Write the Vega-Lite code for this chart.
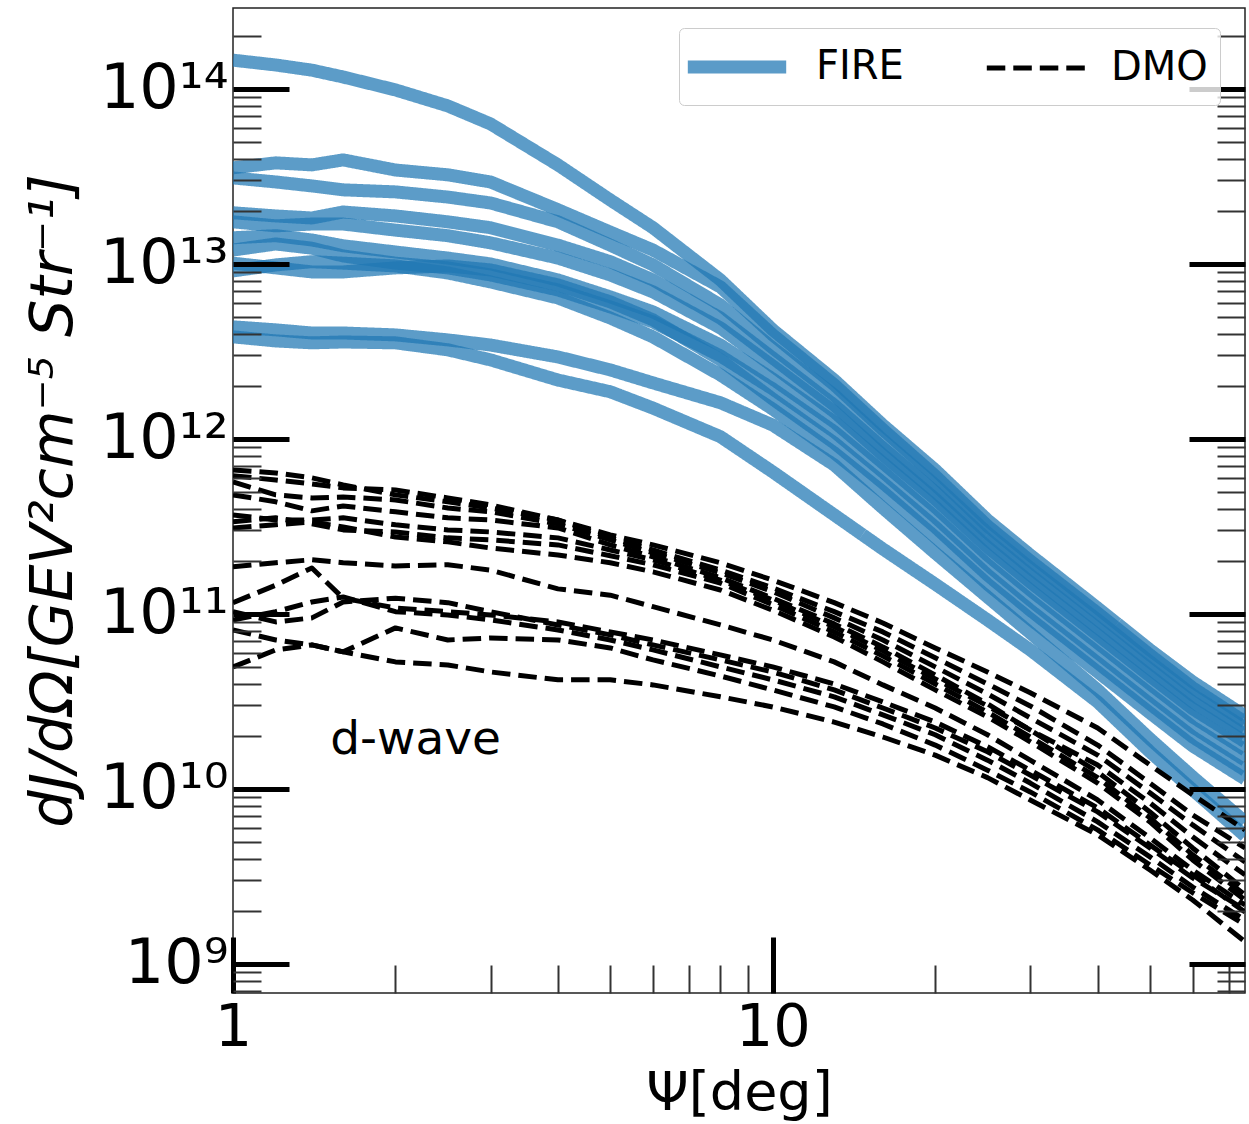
{
"$schema": "https://vega.github.io/schema/vega-lite/v6.json",
"width": 1012, "height": 985,
"autosize": {"type": "none"},
"padding": {"left": 233, "top": 8, "right": 4, "bottom": 131},
"background": "white",
"config": {"view": {"stroke": "#222222", "strokeWidth": 1.5}},
"datasets": {
"fire": [
{"sim":"FIRE","halo":"F1","psi":1,"J":1.46e14},{"sim":"FIRE","halo":"F1","psi":1.2,"J":1.37e14},{"sim":"FIRE","halo":"F1","psi":1.4,"J":1.28e14},{"sim":"FIRE","halo":"F1","psi":1.6,"J":1.17e14},{"sim":"FIRE","halo":"F1","psi":2,"J":9.87e13},{"sim":"FIRE","halo":"F1","psi":2.5,"J":8.00e13},{"sim":"FIRE","halo":"F1","psi":3,"J":6.31e13},{"sim":"FIRE","halo":"F1","psi":4,"J":3.68e13},{"sim":"FIRE","halo":"F1","psi":5,"J":2.32e13},{"sim":"FIRE","halo":"F1","psi":6,"J":1.61e13},{"sim":"FIRE","halo":"F1","psi":8,"J":8.10e12},{"sim":"FIRE","halo":"F1","psi":10,"J":4.20e12},{"sim":"FIRE","halo":"F1","psi":13,"J":2.17e12},{"sim":"FIRE","halo":"F1","psi":16,"J":1.20e12},{"sim":"FIRE","halo":"F1","psi":20,"J":6.65e11},{"sim":"FIRE","halo":"F1","psi":25,"J":3.44e11},{"sim":"FIRE","halo":"F1","psi":30,"J":2.17e11},{"sim":"FIRE","halo":"F1","psi":40,"J":1.08e11},{"sim":"FIRE","halo":"F1","psi":50,"J":6.23e10},{"sim":"FIRE","halo":"F1","psi":60,"J":4.09e10},{"sim":"FIRE","halo":"F1","psi":75,"J":2.61e10},
{"sim":"FIRE","halo":"F2","psi":1,"J":3.54e13},{"sim":"FIRE","halo":"F2","psi":1.2,"J":3.78e13},{"sim":"FIRE","halo":"F2","psi":1.4,"J":3.68e13},{"sim":"FIRE","halo":"F2","psi":1.6,"J":3.93e13},{"sim":"FIRE","halo":"F2","psi":2,"J":3.44e13},{"sim":"FIRE","halo":"F2","psi":2.5,"J":3.23e13},{"sim":"FIRE","halo":"F2","psi":3,"J":2.94e13},{"sim":"FIRE","halo":"F2","psi":4,"J":2.04e13},{"sim":"FIRE","halo":"F2","psi":5,"J":1.52e13},{"sim":"FIRE","halo":"F2","psi":6,"J":1.20e13},{"sim":"FIRE","halo":"F2","psi":8,"J":7.39e12},{"sim":"FIRE","halo":"F2","psi":10,"J":3.93e12},{"sim":"FIRE","halo":"F2","psi":13,"J":2.04e12},{"sim":"FIRE","halo":"F2","psi":16,"J":1.13e12},{"sim":"FIRE","halo":"F2","psi":20,"J":6.15e11},{"sim":"FIRE","halo":"F2","psi":25,"J":3.18e11},{"sim":"FIRE","halo":"F2","psi":30,"J":2.01e11},{"sim":"FIRE","halo":"F2","psi":40,"J":1.01e11},{"sim":"FIRE","halo":"F2","psi":50,"J":5.83e10},{"sim":"FIRE","halo":"F2","psi":60,"J":3.78e10},{"sim":"FIRE","halo":"F2","psi":75,"J":2.41e10},
{"sim":"FIRE","halo":"F3","psi":1,"J":3.10e13},{"sim":"FIRE","halo":"F3","psi":1.2,"J":2.94e13},{"sim":"FIRE","halo":"F3","psi":1.4,"J":2.79e13},{"sim":"FIRE","halo":"F3","psi":1.6,"J":2.65e13},{"sim":"FIRE","halo":"F3","psi":2,"J":2.58e13},{"sim":"FIRE","halo":"F3","psi":2.5,"J":2.41e13},{"sim":"FIRE","halo":"F3","psi":3,"J":2.23e13},{"sim":"FIRE","halo":"F3","psi":4,"J":1.74e13},{"sim":"FIRE","halo":"F3","psi":5,"J":1.28e13},{"sim":"FIRE","halo":"F3","psi":6,"J":9.87e12},{"sim":"FIRE","halo":"F3","psi":8,"J":5.83e12},{"sim":"FIRE","halo":"F3","psi":10,"J":3.31e12},{"sim":"FIRE","halo":"F3","psi":13,"J":1.78e12},{"sim":"FIRE","halo":"F3","psi":16,"J":9.87e11},{"sim":"FIRE","halo":"F3","psi":20,"J":5.46e11},{"sim":"FIRE","halo":"F3","psi":25,"J":2.90e11},{"sim":"FIRE","halo":"F3","psi":30,"J":1.83e11},{"sim":"FIRE","halo":"F3","psi":40,"J":9.24e10},{"sim":"FIRE","halo":"F3","psi":50,"J":5.32e10},{"sim":"FIRE","halo":"F3","psi":60,"J":3.44e10},{"sim":"FIRE","halo":"F3","psi":75,"J":2.23e10},
{"sim":"FIRE","halo":"F4","psi":1,"J":1.96e13},{"sim":"FIRE","halo":"F4","psi":1.2,"J":1.88e13},{"sim":"FIRE","halo":"F4","psi":1.4,"J":1.83e13},{"sim":"FIRE","halo":"F4","psi":1.6,"J":1.98e13},{"sim":"FIRE","halo":"F4","psi":2,"J":1.88e13},{"sim":"FIRE","halo":"F4","psi":2.5,"J":1.74e13},{"sim":"FIRE","halo":"F4","psi":3,"J":1.61e13},{"sim":"FIRE","halo":"F4","psi":4,"J":1.28e13},{"sim":"FIRE","halo":"F4","psi":5,"J":1.03e13},{"sim":"FIRE","halo":"F4","psi":6,"J":8.10e12},{"sim":"FIRE","halo":"F4","psi":8,"J":4.91e12},{"sim":"FIRE","halo":"F4","psi":10,"J":2.90e12},{"sim":"FIRE","halo":"F4","psi":13,"J":1.56e12},{"sim":"FIRE","halo":"F4","psi":16,"J":8.88e11},{"sim":"FIRE","halo":"F4","psi":20,"J":4.98e11},{"sim":"FIRE","halo":"F4","psi":25,"J":2.65e11},{"sim":"FIRE","halo":"F4","psi":30,"J":1.67e11},{"sim":"FIRE","halo":"F4","psi":40,"J":8.32e10},{"sim":"FIRE","halo":"F4","psi":50,"J":4.85e10},{"sim":"FIRE","halo":"F4","psi":60,"J":3.14e10},{"sim":"FIRE","halo":"F4","psi":75,"J":2.04e10},
{"sim":"FIRE","halo":"F5","psi":1,"J":1.74e13},{"sim":"FIRE","halo":"F5","psi":1.2,"J":1.65e13},{"sim":"FIRE","halo":"F5","psi":1.4,"J":1.69e13},{"sim":"FIRE","halo":"F5","psi":1.6,"J":1.69e13},{"sim":"FIRE","halo":"F5","psi":2,"J":1.56e13},{"sim":"FIRE","halo":"F5","psi":2.5,"J":1.45e13},{"sim":"FIRE","halo":"F5","psi":3,"J":1.32e13},{"sim":"FIRE","halo":"F5","psi":4,"J":1.08e13},{"sim":"FIRE","halo":"F5","psi":5,"J":8.65e12},{"sim":"FIRE","halo":"F5","psi":6,"J":6.92e12},{"sim":"FIRE","halo":"F5","psi":8,"J":4.31e12},{"sim":"FIRE","halo":"F5","psi":10,"J":2.61e12},{"sim":"FIRE","halo":"F5","psi":13,"J":1.43e12},{"sim":"FIRE","halo":"F5","psi":16,"J":8.10e11},{"sim":"FIRE","halo":"F5","psi":20,"J":4.54e11},{"sim":"FIRE","halo":"F5","psi":25,"J":2.41e11},{"sim":"FIRE","halo":"F5","psi":30,"J":1.52e11},{"sim":"FIRE","halo":"F5","psi":40,"J":7.59e10},{"sim":"FIRE","halo":"F5","psi":50,"J":4.42e10},{"sim":"FIRE","halo":"F5","psi":60,"J":2.87e10},{"sim":"FIRE","halo":"F5","psi":75,"J":1.86e10},
{"sim":"FIRE","halo":"F6","psi":1,"J":1.41e13},{"sim":"FIRE","halo":"F6","psi":1.2,"J":1.45e13},{"sim":"FIRE","halo":"F6","psi":1.4,"J":1.37e13},{"sim":"FIRE","halo":"F6","psi":1.6,"J":1.27e13},{"sim":"FIRE","halo":"F6","psi":2,"J":1.17e13},{"sim":"FIRE","halo":"F6","psi":2.5,"J":1.08e13},{"sim":"FIRE","halo":"F6","psi":3,"J":1.00e13},{"sim":"FIRE","halo":"F6","psi":4,"J":8.10e12},{"sim":"FIRE","halo":"F6","psi":5,"J":6.48e12},{"sim":"FIRE","halo":"F6","psi":6,"J":5.32e12},{"sim":"FIRE","halo":"F6","psi":8,"J":3.44e12},{"sim":"FIRE","halo":"F6","psi":10,"J":2.20e12},{"sim":"FIRE","halo":"F6","psi":13,"J":1.25e12},{"sim":"FIRE","halo":"F6","psi":16,"J":7.29e11},{"sim":"FIRE","halo":"F6","psi":20,"J":4.09e11},{"sim":"FIRE","halo":"F6","psi":25,"J":2.17e11},{"sim":"FIRE","halo":"F6","psi":30,"J":1.37e11},{"sim":"FIRE","halo":"F6","psi":40,"J":6.83e10},{"sim":"FIRE","halo":"F6","psi":50,"J":3.98e10},{"sim":"FIRE","halo":"F6","psi":60,"J":2.58e10},{"sim":"FIRE","halo":"F6","psi":75,"J":1.67e10},
{"sim":"FIRE","halo":"F7","psi":1,"J":1.20e13},{"sim":"FIRE","halo":"F7","psi":1.2,"J":1.30e13},{"sim":"FIRE","halo":"F7","psi":1.4,"J":1.23e13},{"sim":"FIRE","halo":"F7","psi":1.6,"J":1.11e13},{"sim":"FIRE","halo":"F7","psi":2,"J":1.01e13},{"sim":"FIRE","halo":"F7","psi":2.5,"J":9.49e12},{"sim":"FIRE","halo":"F7","psi":3,"J":8.65e12},{"sim":"FIRE","halo":"F7","psi":4,"J":7.10e12},{"sim":"FIRE","halo":"F7","psi":5,"J":5.68e12},{"sim":"FIRE","halo":"F7","psi":6,"J":4.66e12},{"sim":"FIRE","halo":"F7","psi":8,"J":2.98e12},{"sim":"FIRE","halo":"F7","psi":10,"J":1.93e12},{"sim":"FIRE","halo":"F7","psi":13,"J":1.10e12},{"sim":"FIRE","halo":"F7","psi":16,"J":6.48e11},{"sim":"FIRE","halo":"F7","psi":20,"J":3.58e11},{"sim":"FIRE","halo":"F7","psi":25,"J":1.91e11},{"sim":"FIRE","halo":"F7","psi":30,"J":1.20e11},{"sim":"FIRE","halo":"F7","psi":40,"J":5.99e10},{"sim":"FIRE","halo":"F7","psi":50,"J":3.49e10},{"sim":"FIRE","halo":"F7","psi":60,"J":2.26e10},{"sim":"FIRE","halo":"F7","psi":75,"J":1.46e10},
{"sim":"FIRE","halo":"F8","psi":1,"J":1.01e13},{"sim":"FIRE","halo":"F8","psi":1.2,"J":9.49e12},{"sim":"FIRE","halo":"F8","psi":1.4,"J":9.00e12},{"sim":"FIRE","halo":"F8","psi":1.6,"J":9.00e12},{"sim":"FIRE","halo":"F8","psi":2,"J":9.49e12},{"sim":"FIRE","halo":"F8","psi":2.5,"J":9.74e12},{"sim":"FIRE","halo":"F8","psi":3,"J":9.24e12},{"sim":"FIRE","halo":"F8","psi":4,"J":7.59e12},{"sim":"FIRE","halo":"F8","psi":5,"J":6.07e12},{"sim":"FIRE","halo":"F8","psi":6,"J":4.79e12},{"sim":"FIRE","halo":"F8","psi":8,"J":2.83e12},{"sim":"FIRE","halo":"F8","psi":10,"J":1.69e12},{"sim":"FIRE","halo":"F8","psi":13,"J":9.49e11},{"sim":"FIRE","halo":"F8","psi":16,"J":5.61e11},{"sim":"FIRE","halo":"F8","psi":20,"J":3.14e11},{"sim":"FIRE","halo":"F8","psi":25,"J":1.67e11},{"sim":"FIRE","halo":"F8","psi":30,"J":1.05e11},{"sim":"FIRE","halo":"F8","psi":40,"J":5.25e10},{"sim":"FIRE","halo":"F8","psi":50,"J":3.06e10},{"sim":"FIRE","halo":"F8","psi":60,"J":1.98e10},{"sim":"FIRE","halo":"F8","psi":75,"J":1.28e10},
{"sim":"FIRE","halo":"F9","psi":1,"J":9.12e12},{"sim":"FIRE","halo":"F9","psi":1.2,"J":9.87e12},{"sim":"FIRE","halo":"F9","psi":1.4,"J":1.03e13},{"sim":"FIRE","halo":"F9","psi":1.6,"J":1.01e13},{"sim":"FIRE","halo":"F9","psi":2,"J":9.74e12},{"sim":"FIRE","halo":"F9","psi":2.5,"J":8.88e12},{"sim":"FIRE","halo":"F9","psi":3,"J":7.89e12},{"sim":"FIRE","halo":"F9","psi":4,"J":6.39e12},{"sim":"FIRE","halo":"F9","psi":5,"J":4.91e12},{"sim":"FIRE","halo":"F9","psi":6,"J":3.83e12},{"sim":"FIRE","halo":"F9","psi":8,"J":2.32e12},{"sim":"FIRE","halo":"F9","psi":10,"J":1.48e12},{"sim":"FIRE","halo":"F9","psi":13,"J":8.32e11},{"sim":"FIRE","halo":"F9","psi":16,"J":4.98e11},{"sim":"FIRE","halo":"F9","psi":20,"J":2.75e11},{"sim":"FIRE","halo":"F9","psi":25,"J":1.48e11},{"sim":"FIRE","halo":"F9","psi":30,"J":9.36e10},{"sim":"FIRE","halo":"F9","psi":40,"J":4.66e10},{"sim":"FIRE","halo":"F9","psi":50,"J":2.72e10},{"sim":"FIRE","halo":"F9","psi":60,"J":1.76e10},{"sim":"FIRE","halo":"F9","psi":75,"J":1.14e10},
{"sim":"FIRE","halo":"F10","psi":1,"J":4.37e12},{"sim":"FIRE","halo":"F10","psi":1.2,"J":4.20e12},{"sim":"FIRE","halo":"F10","psi":1.4,"J":4.03e12},{"sim":"FIRE","halo":"F10","psi":1.6,"J":4.03e12},{"sim":"FIRE","halo":"F10","psi":2,"J":3.93e12},{"sim":"FIRE","halo":"F10","psi":2.5,"J":3.68e12},{"sim":"FIRE","halo":"F10","psi":3,"J":3.44e12},{"sim":"FIRE","halo":"F10","psi":4,"J":2.94e12},{"sim":"FIRE","halo":"F10","psi":5,"J":2.48e12},{"sim":"FIRE","halo":"F10","psi":6,"J":2.09e12},{"sim":"FIRE","halo":"F10","psi":8,"J":1.61e12},{"sim":"FIRE","halo":"F10","psi":10,"J":1.20e12},{"sim":"FIRE","halo":"F10","psi":13,"J":7.10e11},{"sim":"FIRE","halo":"F10","psi":16,"J":4.03e11},{"sim":"FIRE","halo":"F10","psi":20,"J":2.23e11},{"sim":"FIRE","halo":"F10","psi":25,"J":1.25e11},{"sim":"FIRE","halo":"F10","psi":30,"J":7.79e10},{"sim":"FIRE","halo":"F10","psi":40,"J":3.68e10},{"sim":"FIRE","halo":"F10","psi":50,"J":1.93e10},{"sim":"FIRE","halo":"F10","psi":60,"J":1.17e10},{"sim":"FIRE","halo":"F10","psi":75,"J":6.48e9},
{"sim":"FIRE","halo":"F11","psi":1,"J":3.83e12},{"sim":"FIRE","halo":"F11","psi":1.2,"J":3.63e12},{"sim":"FIRE","halo":"F11","psi":1.4,"J":3.54e12},{"sim":"FIRE","halo":"F11","psi":1.6,"J":3.58e12},{"sim":"FIRE","halo":"F11","psi":2,"J":3.54e12},{"sim":"FIRE","halo":"F11","psi":2.5,"J":3.23e12},{"sim":"FIRE","halo":"F11","psi":3,"J":2.83e12},{"sim":"FIRE","halo":"F11","psi":4,"J":2.17e12},{"sim":"FIRE","halo":"F11","psi":5,"J":1.86e12},{"sim":"FIRE","halo":"F11","psi":6,"J":1.50e12},{"sim":"FIRE","halo":"F11","psi":8,"J":1.03e12},{"sim":"FIRE","halo":"F11","psi":10,"J":6.48e11},{"sim":"FIRE","halo":"F11","psi":13,"J":3.68e11},{"sim":"FIRE","halo":"F11","psi":16,"J":2.35e11},{"sim":"FIRE","halo":"F11","psi":20,"J":1.48e11},{"sim":"FIRE","halo":"F11","psi":25,"J":9.24e10},{"sim":"FIRE","halo":"F11","psi":30,"J":6.23e10},{"sim":"FIRE","halo":"F11","psi":40,"J":3.14e10},{"sim":"FIRE","halo":"F11","psi":50,"J":1.63e10},{"sim":"FIRE","halo":"F11","psi":60,"J":9.87e9},{"sim":"FIRE","halo":"F11","psi":75,"J":5.39e9}
],
"dmo": [
{"sim":"DMO","halo":"D1","psi":1,"J":6.65e11},{"sim":"DMO","halo":"D1","psi":1.2,"J":6.39e11},{"sim":"DMO","halo":"D1","psi":1.4,"J":5.99e11},{"sim":"DMO","halo":"D1","psi":1.6,"J":5.46e11},{"sim":"DMO","halo":"D1","psi":2,"J":4.79e11},{"sim":"DMO","halo":"D1","psi":2.5,"J":4.37e11},{"sim":"DMO","halo":"D1","psi":3,"J":4.03e11},{"sim":"DMO","halo":"D1","psi":4,"J":3.44e11},{"sim":"DMO","halo":"D1","psi":5,"J":2.83e11},{"sim":"DMO","halo":"D1","psi":6,"J":2.48e11},{"sim":"DMO","halo":"D1","psi":8,"J":1.96e11},{"sim":"DMO","halo":"D1","psi":10,"J":1.56e11},{"sim":"DMO","halo":"D1","psi":13,"J":1.16e11},{"sim":"DMO","halo":"D1","psi":16,"J":8.88e10},{"sim":"DMO","halo":"D1","psi":20,"J":6.39e10},{"sim":"DMO","halo":"D1","psi":25,"J":4.66e10},{"sim":"DMO","halo":"D1","psi":30,"J":3.54e10},{"sim":"DMO","halo":"D1","psi":40,"J":2.23e10},{"sim":"DMO","halo":"D1","psi":50,"J":1.37e10},{"sim":"DMO","halo":"D1","psi":60,"J":9.24e9},{"sim":"DMO","halo":"D1","psi":75,"J":5.83e9},
{"sim":"DMO","halo":"D2","psi":1,"J":6.15e11},{"sim":"DMO","halo":"D2","psi":1.2,"J":5.83e11},{"sim":"DMO","halo":"D2","psi":1.4,"J":5.53e11},{"sim":"DMO","halo":"D2","psi":1.6,"J":5.25e11},{"sim":"DMO","halo":"D2","psi":2,"J":5.11e11},{"sim":"DMO","halo":"D2","psi":2.5,"J":4.60e11},{"sim":"DMO","halo":"D2","psi":3,"J":4.20e11},{"sim":"DMO","halo":"D2","psi":4,"J":3.44e11},{"sim":"DMO","halo":"D2","psi":5,"J":2.72e11},{"sim":"DMO","halo":"D2","psi":6,"J":2.32e11},{"sim":"DMO","halo":"D2","psi":8,"J":1.78e11},{"sim":"DMO","halo":"D2","psi":10,"J":1.41e11},{"sim":"DMO","halo":"D2","psi":13,"J":1.03e11},{"sim":"DMO","halo":"D2","psi":16,"J":7.89e10},{"sim":"DMO","halo":"D2","psi":20,"J":5.61e10},{"sim":"DMO","halo":"D2","psi":25,"J":3.98e10},{"sim":"DMO","halo":"D2","psi":30,"J":2.98e10},{"sim":"DMO","halo":"D2","psi":40,"J":1.78e10},{"sim":"DMO","halo":"D2","psi":50,"J":1.08e10},{"sim":"DMO","halo":"D2","psi":60,"J":7.10e9},{"sim":"DMO","halo":"D2","psi":75,"J":4.60e9},
{"sim":"DMO","halo":"D3","psi":1,"J":5.68e11},{"sim":"DMO","halo":"D3","psi":1.2,"J":4.79e11},{"sim":"DMO","halo":"D3","psi":1.4,"J":4.60e11},{"sim":"DMO","halo":"D3","psi":1.6,"J":4.66e11},{"sim":"DMO","halo":"D3","psi":2,"J":4.48e11},{"sim":"DMO","halo":"D3","psi":2.5,"J":4.03e11},{"sim":"DMO","halo":"D3","psi":3,"J":3.83e11},{"sim":"DMO","halo":"D3","psi":4,"J":3.27e11},{"sim":"DMO","halo":"D3","psi":5,"J":2.65e11},{"sim":"DMO","halo":"D3","psi":6,"J":2.23e11},{"sim":"DMO","halo":"D3","psi":8,"J":1.72e11},{"sim":"DMO","halo":"D3","psi":10,"J":1.34e11},{"sim":"DMO","halo":"D3","psi":13,"J":9.49e10},{"sim":"DMO","halo":"D3","psi":16,"J":7.10e10},{"sim":"DMO","halo":"D3","psi":20,"J":4.98e10},{"sim":"DMO","halo":"D3","psi":25,"J":3.49e10},{"sim":"DMO","halo":"D3","psi":30,"J":2.55e10},{"sim":"DMO","halo":"D3","psi":40,"J":1.56e10},{"sim":"DMO","halo":"D3","psi":50,"J":9.49e9},{"sim":"DMO","halo":"D3","psi":60,"J":6.23e9},{"sim":"DMO","halo":"D3","psi":75,"J":3.83e9},
{"sim":"DMO","halo":"D4","psi":1,"J":4.79e11},{"sim":"DMO","halo":"D4","psi":1.2,"J":4.37e11},{"sim":"DMO","halo":"D4","psi":1.4,"J":3.88e11},{"sim":"DMO","halo":"D4","psi":1.6,"J":4.14e11},{"sim":"DMO","halo":"D4","psi":2,"J":3.83e11},{"sim":"DMO","halo":"D4","psi":2.5,"J":3.54e11},{"sim":"DMO","halo":"D4","psi":3,"J":3.44e11},{"sim":"DMO","halo":"D4","psi":4,"J":3.10e11},{"sim":"DMO","halo":"D4","psi":5,"J":2.48e11},{"sim":"DMO","halo":"D4","psi":6,"J":2.12e11},{"sim":"DMO","halo":"D4","psi":8,"J":1.61e11},{"sim":"DMO","halo":"D4","psi":10,"J":1.23e11},{"sim":"DMO","halo":"D4","psi":13,"J":8.77e10},{"sim":"DMO","halo":"D4","psi":16,"J":6.48e10},{"sim":"DMO","halo":"D4","psi":20,"J":4.48e10},{"sim":"DMO","halo":"D4","psi":25,"J":3.06e10},{"sim":"DMO","halo":"D4","psi":30,"J":2.17e10},{"sim":"DMO","halo":"D4","psi":40,"J":1.25e10},{"sim":"DMO","halo":"D4","psi":50,"J":7.39e9},{"sim":"DMO","halo":"D4","psi":60,"J":4.60e9},{"sim":"DMO","halo":"D4","psi":75,"J":2.65e9},
{"sim":"DMO","halo":"D5","psi":1,"J":3.68e11},{"sim":"DMO","halo":"D5","psi":1.2,"J":3.44e11},{"sim":"DMO","halo":"D5","psi":1.4,"J":3.44e11},{"sim":"DMO","halo":"D5","psi":1.6,"J":3.54e11},{"sim":"DMO","halo":"D5","psi":2,"J":3.23e11},{"sim":"DMO","halo":"D5","psi":2.5,"J":3.02e11},{"sim":"DMO","halo":"D5","psi":3,"J":2.94e11},{"sim":"DMO","halo":"D5","psi":4,"J":2.72e11},{"sim":"DMO","halo":"D5","psi":5,"J":2.32e11},{"sim":"DMO","halo":"D5","psi":6,"J":2.04e11},{"sim":"DMO","halo":"D5","psi":8,"J":1.56e11},{"sim":"DMO","halo":"D5","psi":10,"J":1.20e11},{"sim":"DMO","halo":"D5","psi":13,"J":8.43e10},{"sim":"DMO","halo":"D5","psi":16,"J":6.15e10},{"sim":"DMO","halo":"D5","psi":20,"J":4.25e10},{"sim":"DMO","halo":"D5","psi":25,"J":2.98e10},{"sim":"DMO","halo":"D5","psi":30,"J":2.17e10},{"sim":"DMO","halo":"D5","psi":40,"J":1.37e10},{"sim":"DMO","halo":"D5","psi":50,"J":8.32e9},{"sim":"DMO","halo":"D5","psi":60,"J":5.32e9},{"sim":"DMO","halo":"D5","psi":75,"J":3.23e9},
{"sim":"DMO","halo":"D6","psi":1,"J":3.36e11},{"sim":"DMO","halo":"D6","psi":1.2,"J":3.54e11},{"sim":"DMO","halo":"D6","psi":1.4,"J":3.27e11},{"sim":"DMO","halo":"D6","psi":1.6,"J":3.02e11},{"sim":"DMO","halo":"D6","psi":2,"J":2.94e11},{"sim":"DMO","halo":"D6","psi":2.5,"J":2.72e11},{"sim":"DMO","halo":"D6","psi":3,"J":2.65e11},{"sim":"DMO","halo":"D6","psi":4,"J":2.48e11},{"sim":"DMO","halo":"D6","psi":5,"J":2.15e11},{"sim":"DMO","halo":"D6","psi":6,"J":1.91e11},{"sim":"DMO","halo":"D6","psi":8,"J":1.50e11},{"sim":"DMO","halo":"D6","psi":10,"J":1.13e11},{"sim":"DMO","halo":"D6","psi":13,"J":7.89e10},{"sim":"DMO","halo":"D6","psi":16,"J":5.75e10},{"sim":"DMO","halo":"D6","psi":20,"J":3.98e10},{"sim":"DMO","halo":"D6","psi":25,"J":2.75e10},{"sim":"DMO","halo":"D6","psi":30,"J":1.98e10},{"sim":"DMO","halo":"D6","psi":40,"J":1.16e10},{"sim":"DMO","halo":"D6","psi":50,"J":6.83e9},{"sim":"DMO","halo":"D6","psi":60,"J":4.20e9},{"sim":"DMO","halo":"D6","psi":75,"J":2.48e9},
{"sim":"DMO","halo":"D7","psi":1,"J":3.10e11},{"sim":"DMO","halo":"D7","psi":1.2,"J":3.23e11},{"sim":"DMO","halo":"D7","psi":1.4,"J":3.36e11},{"sim":"DMO","halo":"D7","psi":1.6,"J":3.14e11},{"sim":"DMO","halo":"D7","psi":2,"J":2.75e11},{"sim":"DMO","halo":"D7","psi":2.5,"J":2.58e11},{"sim":"DMO","halo":"D7","psi":3,"J":2.38e11},{"sim":"DMO","halo":"D7","psi":4,"J":2.17e11},{"sim":"DMO","halo":"D7","psi":5,"J":1.96e11},{"sim":"DMO","halo":"D7","psi":6,"J":1.74e11},{"sim":"DMO","halo":"D7","psi":8,"J":1.37e11},{"sim":"DMO","halo":"D7","psi":10,"J":1.05e11},{"sim":"DMO","halo":"D7","psi":13,"J":7.39e10},{"sim":"DMO","halo":"D7","psi":16,"J":5.32e10},{"sim":"DMO","halo":"D7","psi":20,"J":3.68e10},{"sim":"DMO","halo":"D7","psi":25,"J":2.58e10},{"sim":"DMO","halo":"D7","psi":30,"J":1.86e10},{"sim":"DMO","halo":"D7","psi":40,"J":1.08e10},{"sim":"DMO","halo":"D7","psi":50,"J":6.48e9},{"sim":"DMO","halo":"D7","psi":60,"J":3.93e9},{"sim":"DMO","halo":"D7","psi":75,"J":2.32e9},
{"sim":"DMO","halo":"D8","psi":1,"J":1.86e11},{"sim":"DMO","halo":"D8","psi":1.2,"J":1.96e11},{"sim":"DMO","halo":"D8","psi":1.4,"J":2.04e11},{"sim":"DMO","halo":"D8","psi":1.6,"J":1.96e11},{"sim":"DMO","halo":"D8","psi":2,"J":1.88e11},{"sim":"DMO","halo":"D8","psi":2.5,"J":1.91e11},{"sim":"DMO","halo":"D8","psi":3,"J":1.78e11},{"sim":"DMO","halo":"D8","psi":4,"J":1.39e11},{"sim":"DMO","halo":"D8","psi":5,"J":1.28e11},{"sim":"DMO","halo":"D8","psi":6,"J":1.10e11},{"sim":"DMO","halo":"D8","psi":8,"J":8.65e10},{"sim":"DMO","halo":"D8","psi":10,"J":7.10e10},{"sim":"DMO","halo":"D8","psi":13,"J":5.32e10},{"sim":"DMO","halo":"D8","psi":16,"J":3.93e10},{"sim":"DMO","halo":"D8","psi":20,"J":2.90e10},{"sim":"DMO","halo":"D8","psi":25,"J":2.04e10},{"sim":"DMO","halo":"D8","psi":30,"J":1.46e10},{"sim":"DMO","halo":"D8","psi":40,"J":8.65e9},{"sim":"DMO","halo":"D8","psi":50,"J":5.25e9},{"sim":"DMO","halo":"D8","psi":60,"J":3.44e9},{"sim":"DMO","halo":"D8","psi":75,"J":2.17e9},
{"sim":"DMO","halo":"D9","psi":1,"J":1.16e11},{"sim":"DMO","halo":"D9","psi":1.2,"J":1.46e11},{"sim":"DMO","halo":"D9","psi":1.4,"J":1.83e11},{"sim":"DMO","halo":"D9","psi":1.6,"J":1.23e11},{"sim":"DMO","halo":"D9","psi":2,"J":1.08e11},{"sim":"DMO","halo":"D9","psi":2.5,"J":1.03e11},{"sim":"DMO","halo":"D9","psi":3,"J":9.87e10},{"sim":"DMO","halo":"D9","psi":4,"J":9.00e10},{"sim":"DMO","halo":"D9","psi":5,"J":7.89e10},{"sim":"DMO","halo":"D9","psi":6,"J":7.10e10},{"sim":"DMO","halo":"D9","psi":8,"J":5.83e10},{"sim":"DMO","halo":"D9","psi":10,"J":4.98e10},{"sim":"DMO","halo":"D9","psi":13,"J":3.98e10},{"sim":"DMO","halo":"D9","psi":16,"J":3.14e10},{"sim":"DMO","halo":"D9","psi":20,"J":2.41e10},{"sim":"DMO","halo":"D9","psi":25,"J":1.74e10},{"sim":"DMO","halo":"D9","psi":30,"J":1.28e10},{"sim":"DMO","halo":"D9","psi":40,"J":7.79e9},{"sim":"DMO","halo":"D9","psi":50,"J":4.79e9},{"sim":"DMO","halo":"D9","psi":60,"J":3.23e9},{"sim":"DMO","halo":"D9","psi":75,"J":1.98e9},
{"sim":"DMO","halo":"D10","psi":1,"J":1.03e11},{"sim":"DMO","halo":"D10","psi":1.2,"J":9.00e10},{"sim":"DMO","halo":"D10","psi":1.4,"J":9.49e10},{"sim":"DMO","halo":"D10","psi":1.6,"J":1.17e11},{"sim":"DMO","halo":"D10","psi":2,"J":1.23e11},{"sim":"DMO","halo":"D10","psi":2.5,"J":1.16e11},{"sim":"DMO","halo":"D10","psi":3,"J":1.03e11},{"sim":"DMO","halo":"D10","psi":4,"J":8.65e10},{"sim":"DMO","halo":"D10","psi":5,"J":7.59e10},{"sim":"DMO","halo":"D10","psi":6,"J":6.65e10},{"sim":"DMO","halo":"D10","psi":8,"J":5.46e10},{"sim":"DMO","halo":"D10","psi":10,"J":4.66e10},{"sim":"DMO","halo":"D10","psi":13,"J":3.68e10},{"sim":"DMO","halo":"D10","psi":16,"J":2.90e10},{"sim":"DMO","halo":"D10","psi":20,"J":2.23e10},{"sim":"DMO","halo":"D10","psi":25,"J":1.63e10},{"sim":"DMO","halo":"D10","psi":30,"J":1.20e10},{"sim":"DMO","halo":"D10","psi":40,"J":7.39e9},{"sim":"DMO","halo":"D10","psi":50,"J":4.60e9},{"sim":"DMO","halo":"D10","psi":60,"J":3.10e9},{"sim":"DMO","halo":"D10","psi":75,"J":2.04e9},
{"sim":"DMO","halo":"D11","psi":1,"J":9.24e10},{"sim":"DMO","halo":"D11","psi":1.2,"J":1.03e11},{"sim":"DMO","halo":"D11","psi":1.4,"J":1.17e11},{"sim":"DMO","halo":"D11","psi":1.6,"J":1.25e11},{"sim":"DMO","halo":"D11","psi":2,"J":1.03e11},{"sim":"DMO","halo":"D11","psi":2.5,"J":9.87e10},{"sim":"DMO","halo":"D11","psi":3,"J":9.24e10},{"sim":"DMO","halo":"D11","psi":4,"J":8.10e10},{"sim":"DMO","halo":"D11","psi":5,"J":7.10e10},{"sim":"DMO","halo":"D11","psi":6,"J":6.23e10},{"sim":"DMO","halo":"D11","psi":8,"J":4.98e10},{"sim":"DMO","halo":"D11","psi":10,"J":4.20e10},{"sim":"DMO","halo":"D11","psi":13,"J":3.36e10},{"sim":"DMO","halo":"D11","psi":16,"J":2.65e10},{"sim":"DMO","halo":"D11","psi":20,"J":2.04e10},{"sim":"DMO","halo":"D11","psi":25,"J":1.46e10},{"sim":"DMO","halo":"D11","psi":30,"J":1.08e10},{"sim":"DMO","halo":"D11","psi":40,"J":6.48e9},{"sim":"DMO","halo":"D11","psi":50,"J":4.09e9},{"sim":"DMO","halo":"D11","psi":60,"J":2.75e9},{"sim":"DMO","halo":"D11","psi":75,"J":1.78e9},
{"sim":"DMO","halo":"D12","psi":1,"J":8.10e10},{"sim":"DMO","halo":"D12","psi":1.2,"J":7.10e10},{"sim":"DMO","halo":"D12","psi":1.4,"J":6.65e10},{"sim":"DMO","halo":"D12","psi":1.6,"J":6.07e10},{"sim":"DMO","halo":"D12","psi":2,"J":8.32e10},{"sim":"DMO","halo":"D12","psi":2.5,"J":7.10e10},{"sim":"DMO","halo":"D12","psi":3,"J":7.29e10},{"sim":"DMO","halo":"D12","psi":4,"J":7.10e10},{"sim":"DMO","halo":"D12","psi":5,"J":6.39e10},{"sim":"DMO","halo":"D12","psi":6,"J":5.46e10},{"sim":"DMO","halo":"D12","psi":8,"J":4.42e10},{"sim":"DMO","halo":"D12","psi":10,"J":3.68e10},{"sim":"DMO","halo":"D12","psi":13,"J":2.94e10},{"sim":"DMO","halo":"D12","psi":16,"J":2.35e10},{"sim":"DMO","halo":"D12","psi":20,"J":1.78e10},{"sim":"DMO","halo":"D12","psi":25,"J":1.28e10},{"sim":"DMO","halo":"D12","psi":30,"J":9.61e9},{"sim":"DMO","halo":"D12","psi":40,"J":5.83e9},{"sim":"DMO","halo":"D12","psi":50,"J":3.68e9},{"sim":"DMO","halo":"D12","psi":60,"J":2.55e9},{"sim":"DMO","halo":"D12","psi":75,"J":1.67e9},
{"sim":"DMO","halo":"D13","psi":1,"J":4.98e10},{"sim":"DMO","halo":"D13","psi":1.2,"J":6.23e10},{"sim":"DMO","halo":"D13","psi":1.4,"J":6.65e10},{"sim":"DMO","halo":"D13","psi":1.6,"J":6.07e10},{"sim":"DMO","halo":"D13","psi":2,"J":5.32e10},{"sim":"DMO","halo":"D13","psi":2.5,"J":5.11e10},{"sim":"DMO","halo":"D13","psi":3,"J":4.66e10},{"sim":"DMO","halo":"D13","psi":4,"J":4.20e10},{"sim":"DMO","halo":"D13","psi":5,"J":4.20e10},{"sim":"DMO","halo":"D13","psi":6,"J":3.93e10},{"sim":"DMO","halo":"D13","psi":8,"J":3.36e10},{"sim":"DMO","halo":"D13","psi":10,"J":2.94e10},{"sim":"DMO","halo":"D13","psi":13,"J":2.41e10},{"sim":"DMO","halo":"D13","psi":16,"J":1.98e10},{"sim":"DMO","halo":"D13","psi":20,"J":1.56e10},{"sim":"DMO","halo":"D13","psi":25,"J":1.16e10},{"sim":"DMO","halo":"D13","psi":30,"J":8.65e9},{"sim":"DMO","halo":"D13","psi":40,"J":5.46e9},{"sim":"DMO","halo":"D13","psi":50,"J":3.44e9},{"sim":"DMO","halo":"D13","psi":60,"J":2.32e9},{"sim":"DMO","halo":"D13","psi":75,"J":1.34e9}
],
"notes": [{"psi": 1.514, "J": 1.91e10, "label": "d-wave"}]
},
"layer": [
{
"data": {"name": "fire"},
"mark": {"type": "line", "strokeJoin": "round", "strokeCap": "butt", "clip": true},
"encoding": {
"x": {"field": "psi", "type": "quantitative", "scale": {"type": "log", "domain": [1, 75], "nice": false},
"axis": {"orient": "bottom", "values": [1,2,3,4,5,6,7,8,9,10,20,30,40,50,60,70], "domain": false, "grid": false, "zindex": 1,
"tickSize": {"condition": {"test": "datum.value == 1 || datum.value == 10", "value": -56}, "value": -28},
"tickWidth": {"condition": {"test": "datum.value == 1 || datum.value == 10", "value": 5}, "value": 2},
"tickColor": {"condition": {"test": "datum.value == 1 || datum.value == 10", "value": "#000000"}, "value": "#333333"},
"labelExpr": "datum.value == 1 ? '1' : datum.value == 10 ? '10' : ''",
"labelFont": "DejaVu Sans", "labelFontSize": 59, "labelColor": "#000000", "labelPadding": 61, "labelOverlap": false, "labelFlush": false, "labelBound": false,
"title": "Ψ[deg]", "titleFont": "DejaVu Sans", "titleFontSize": 54, "titleFontWeight": "normal", "titleColor": "#000000", "titleBaseline": "alphabetic", "titleY": 116}},
"y": {"field": "J", "type": "quantitative", "scale": {"type": "log", "domain": [6.82e8, 2.9e14], "nice": false},
"axis": {"orient": "left", "values": [7e8,8e8,9e8,1e9,2e9,3e9,4e9,5e9,6e9,7e9,8e9,9e9,1e10,2e10,3e10,4e10,5e10,6e10,7e10,8e10,9e10,1e11,2e11,3e11,4e11,5e11,6e11,7e11,8e11,9e11,1e12,2e12,3e12,4e12,5e12,6e12,7e12,8e12,9e12,1e13,2e13,3e13,4e13,5e13,6e13,7e13,8e13,9e13,1e14,2e14],
"domain": false, "grid": false, "zindex": 1,
"tickSize": {"condition": {"test": "indexof([1e9,1e10,1e11,1e12,1e13,1e14], datum.value) >= 0", "value": -56}, "value": -28},
"tickWidth": {"condition": {"test": "indexof([1e9,1e10,1e11,1e12,1e13,1e14], datum.value) >= 0", "value": 5}, "value": 2},
"tickColor": {"condition": {"test": "indexof([1e9,1e10,1e11,1e12,1e13,1e14], datum.value) >= 0", "value": "#000000"}, "value": "#333333"},
"labelExpr": "datum.value == 1e9 ? '10⁹' : datum.value == 1e10 ? '10¹⁰' : datum.value == 1e11 ? '10¹¹' : datum.value == 1e12 ? '10¹²' : datum.value == 1e13 ? '10¹³' : datum.value == 1e14 ? '10¹⁴' : ''",
"labelFont": "DejaVu Sans", "labelFontSize": 62, "labelColor": "#000000", "labelPadding": 61, "labelOverlap": false, "labelFlush": false, "labelBound": false,
"title": "dJ/dΩ[GEV²cm⁻⁵ Str⁻¹]", "titleFont": "DejaVu Sans", "titleFontSize": 59, "titleFontStyle": "italic", "titleFontWeight": "normal", "titleColor": "#000000", "titleBaseline": "alphabetic", "titleX": -162}},
"detail": {"field": "halo", "type": "nominal"},
"color": {"field": "sim", "type": "nominal", "scale": {"domain": ["FIRE", "DMO"], "range": ["#1f77b4", "#000000"]},
"legend": {"title": null, "orient": "none", "legendX": 446, "legendY": 20, "direction": "horizontal", "zindex": 2,
"symbolType": "M-2.4,0H2.4", "symbolSize": 1681, "symbolOffset": 19,
"labelFont": "DejaVu Sans", "labelFontSize": 40, "labelColor": "#000000", "labelOffset": 52, "labelLimit": 0,
"columnPadding": 72, "padding": 12, "cornerRadius": 5, "fillColor": "rgba(255,255,255,0.8)", "strokeColor": "#cccccc"}},
"strokeDash": {"field": "sim", "type": "nominal", "scale": {"domain": ["FIRE", "DMO"], "range": [[1, 0], [18.5, 8]]}},
"strokeWidth": {"field": "sim", "type": "nominal", "scale": {"domain": ["FIRE", "DMO"], "range": [13, 5]}},
"opacity": {"field": "sim", "type": "nominal", "scale": {"domain": ["FIRE", "DMO"], "range": [0.73, 1]}}
}
},
{
"data": {"name": "dmo"},
"mark": {"type": "line", "strokeJoin": "round", "strokeCap": "butt", "clip": true},
"encoding": {
"x": {"field": "psi", "type": "quantitative"},
"y": {"field": "J", "type": "quantitative", "axis": null},
"detail": {"field": "halo", "type": "nominal"},
"color": {"field": "sim", "type": "nominal"},
"strokeDash": {"field": "sim", "type": "nominal"},
"strokeWidth": {"field": "sim", "type": "nominal"},
"opacity": {"field": "sim", "type": "nominal"}
}
},
{
"data": {"name": "notes"},
"mark": {"type": "text", "align": "left", "baseline": "middle", "font": "DejaVu Sans", "fontSize": 47, "color": "#000000"},
"encoding": {
"x": {"field": "psi", "type": "quantitative"},
"y": {"field": "J", "type": "quantitative",
"axis": {"orient": "right", "values": [7e8,8e8,9e8,1e9,2e9,3e9,4e9,5e9,6e9,7e9,8e9,9e9,1e10,2e10,3e10,4e10,5e10,6e10,7e10,8e10,9e10,1e11,2e11,3e11,4e11,5e11,6e11,7e11,8e11,9e11,1e12,2e12,3e12,4e12,5e12,6e12,7e12,8e12,9e12,1e13,2e13,3e13,4e13,5e13,6e13,7e13,8e13,9e13,1e14,2e14],
"domain": false, "grid": false, "labels": false, "title": null, "zindex": 1,
"tickSize": {"condition": {"test": "indexof([1e9,1e10,1e11,1e12,1e13,1e14], datum.value) >= 0", "value": -56}, "value": -28},
"tickWidth": {"condition": {"test": "indexof([1e9,1e10,1e11,1e12,1e13,1e14], datum.value) >= 0", "value": 5}, "value": 2},
"tickColor": {"condition": {"test": "indexof([1e9,1e10,1e11,1e12,1e13,1e14], datum.value) >= 0", "value": "#000000"}, "value": "#333333"}}},
"text": {"field": "label", "type": "nominal"}
}
}
],
"resolve": {"axis": {"y": "independent"}}
}
